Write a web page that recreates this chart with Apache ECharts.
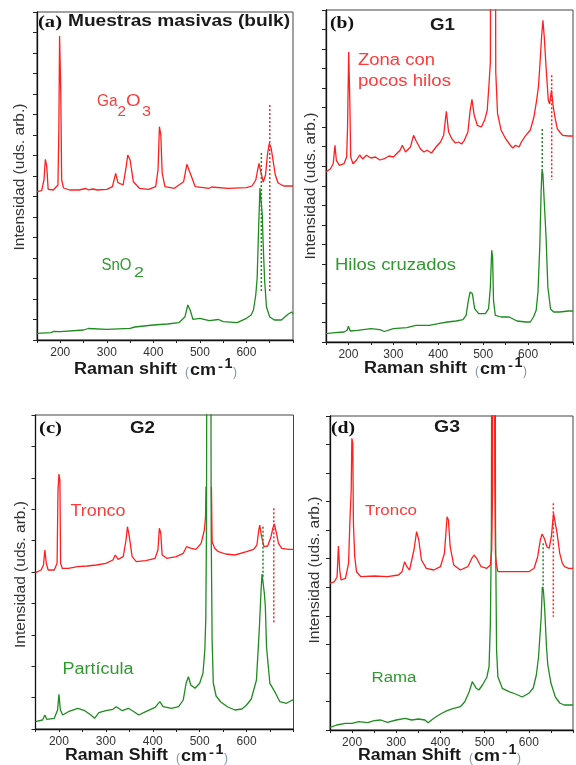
<!DOCTYPE html>
<html><head><meta charset="utf-8">
<script src="https://cdn.jsdelivr.net/npm/echarts@6/dist/echarts.min.js"></script>
<style>html,body{margin:0;padding:0;background:#fff}#c{width:576px;height:765px}</style>
</head><body><div id="c"></div>
<script>
// ---------- DATA (Raman shift cm-1, intensity arb. units) ----------
const xTickLabels = [200, 300, 400, 500, 600];

// (a) bulk samples
const a_Ga2O3 = [[150,148.3],[160,149.3],[165,160],[168,180.7],[171,173.3],[174,150.7],[185,150],[195,155],[197,212],[198.5,304],[200,304],[201,250],[203,160],[207,152],[220,150],[240,150],[255,151.5],[260,150.2],[270,151],[280,150],[300,150.7],[312,153.3],[319,166.7],[324,157.3],[335,155],[341,171.7],[345,185],[350,180],[357,158.3],[370,151.7],[390,150.7],[405,153.3],[410,170],[413,213.3],[416,205],[419,166.7],[425,153.3],[445,151.7],[465,158.3],[472,175.7],[478,168.3],[490,153.3],[520,151.7],[525,153],[560,151.7],[600,152.3],[612,154],[620,160],[624,170],[627,176.7],[631,168],[636,158],[641,165],[645,185],[649,196.7],[653,192],[657,180],[662,165],[668,157],[680,154],[700,154]];
const a_SnO2 = [[150,6.7],[180,7.3],[185,8.5],[200,8.3],[250,10],[260,11.5],[300,10.7],[350,11.7],[360,13],[400,15],[430,16],[455,17.3],[468,23.3],[474,35],[479,30],[485,20.7],[500,21.7],[520,19.3],[540,20.5],[550,18.3],[580,17.3],[600,21.7],[610,25],[615,30],[620,45],[623,62],[626,110],[629,152],[632,150],[634,125],[636,95],[639,60],[643,33],[650,23],[660,20],[675,20],[690,26],[697,28],[700,26]];
const a_dotRed = [[650,235],[650,48]];
const a_dotGreen = [[632,187],[632,47]];

// (b) G1
const b_zona = [[150,170],[160,173.3],[166,178.3],[170,196.7],[173,181.7],[180,176.7],[190,178.3],[196,185],[198,215],[200.5,290],[203,241.7],[205,185],[210,178.3],[218,182],[225,187],[232,183],[240,186.7],[250,184],[260,185],[270,182],[280,183.3],[290,186],[300,185],[315,191.7],[320,196.7],[327,190],[338,195],[345,206.7],[350,201.7],[360,193.3],[368,190],[375,191.7],[385,189],[395,195],[405,200],[412,206.7],[418,230.7],[423,210],[430,203.3],[438,199],[445,200],[452,198],[458,201.7],[466,210],[471,231.7],[475,242.7],[480,226.7],[487,216.7],[496,215],[503,221.7],[509,231.7],[513,258],[516,280],[518.5,800],[522,1200],[525.5,800],[528,270],[532,228.3],[540,211.7],[550,203.3],[560,197],[566,194],[572,196.7],[580,195],[585,200],[595,206.7],[605,212],[613,225],[619,241.7],[623,255],[626,275],[630,305],[633,321.7],[636,305],[640,275],[645,241.7],[648,238],[652,251.7],[656,235],[661,222],[665,213.3],[672,209],[677,206.7],[690,206],[700,206]];
const b_hilos = [[150,8.3],[170,9.3],[190,10],[197,11.7],[200,15.7],[204,11],[220,11.7],[250,13.3],[270,12.3],[280,10.5],[300,13.3],[330,14.3],[350,16.7],[380,16.7],[400,18.3],[420,20],[440,21],[455,22.3],[462,26.7],[467,41.7],[471,50],[476,48.3],[481,33.3],[490,28.3],[505,28.3],[512,33.3],[516,55],[519,91.7],[521,85],[523,41.7],[527,26.7],[540,25],[558,25],[575,21],[595,20],[605,20],[612,25],[618,31.7],[622,50],[626,95],[629,150],[631,172],[633,168],[636,140],[640,105],[644,55],[650,33],[657,30],[670,30],[690,31],[700,31]];
const b_dotRed = [[652.5,266.7],[652.5,162]];
const b_dotGreen = [[631.5,213],[631.5,172]];

// (c) G2  (null = red trace hidden behind the Si peak of the green trace)
const c_tronco = [[150,156.3],[162,159],[167,164],[170,179],[173,165.7],[177,159],[190,159],[196,165.7],[198,239],[200,255],[202,249],[203.5,165.7],[207,160.7],[220,160.7],[240,162.3],[260,163],[280,164],[300,165.7],[315,169],[320,174],[326,169.7],[337,172.3],[343,189],[346,202.3],[350,192.3],[356,172.3],[365,167.3],[385,168.3],[405,170.7],[411,179],[414,200.7],[417,195.7],[420,174],[430,170.7],[450,172.3],[465,175.7],[472,182.3],[476,184],[482,180.7],[492,179.7],[503,185.7],[510,199],[512.5,212.3],[513.5,242.3],[514,null],[524.5,null],[525,242.3],[526.5,187.3],[532,180.7],[540,177.3],[555,175],[575,174],[600,177.3],[615,179.7],[622,184],[626,199],[628,204],[632,192.3],[637,182.3],[645,183],[652,192.3],[656,200.7],[659,205],[663,197.3],[668,185.7],[675,180.7],[690,179.7],[700,179.7]];
const c_particula = [[150,7.3],[165,9],[170,14],[174,9.7],[190,10.7],[197,19],[200,34.7],[203,19],[208,14],[220,17.3],[240,20.7],[255,18.3],[268,14],[276,10.7],[285,16.3],[300,18.3],[315,19.7],[322,22.3],[335,18.3],[348,20.7],[360,17.3],[370,14],[385,17.3],[405,21.7],[415,27.3],[422,22.3],[440,20.7],[455,22.3],[465,29],[471,45.7],[476,52.3],[481,44],[490,40.7],[500,45.7],[507,55.7],[511,79],[513,110],[514.5,200],[516,600],[519.5,1500],[523,600],[524.5,200],[526.5,89],[529,46],[535,33],[545,27],[560,22],[575,19],[590,20],[600,24],[610,30],[617,42],[621,49],[627,99],[631,140],[633,155],[636,153],[638,135],[640,122],[642.5,82],[649.6,45.7],[660,37.3],[671,27.3],[685,25.7],[698,29],[700,29]];
const c_dotRed = [[658,220.7],[658,105.7]];
const c_dotGreen = [[635,202.3],[635,152.3]];

// (d) G3
const d_tronco = [[150,146.7],[160,148.3],[166,153.3],[169,184],[172,160],[175,150],[185,151.7],[192,166.7],[195,208.3],[198,240],[199.5,291.7],[201.5,286.7],[203,206.7],[206,173.3],[210,158.3],[220,153.3],[250,154],[280,153.3],[305,155],[313,158.3],[319,168.3],[324,163.3],[330,160],[340,180],[346,198.3],[351,190],[357,170],[368,161.7],[385,160],[400,163.3],[409,176.7],[415,213.3],[418,210],[422,183.3],[430,165],[445,160],[462,163.3],[471,171.7],[476,175],[482,171.7],[492,163.3],[505,161.7],[513,165],[516,180],[518,240],[519.5,1000],[521.5,1000],[523,250],[524.5,175],[527,165],[530,158.3],[560,158.3],[600,158.3],[612,161.7],[620,173.3],[626,190],[630,196],[635,191.7],[641,183.3],[646,181.7],[651,193.3],[656,216.7],[660,215],[664,196.7],[670,176.7],[676,166.7],[681,163.3],[690,161.7],[700,161.7]];
const d_rama = [[150,2.7],[165,5],[185,6.7],[200,6.7],[215,8.3],[235,7.3],[250,9.3],[265,10],[280,7.7],[300,10],[320,11.7],[335,10],[350,11],[365,10],[372,7.3],[385,11.7],[400,16],[415,19.3],[430,21.7],[445,23.3],[455,28.3],[465,38.3],[472,48.3],[476,50],[481,41.7],[487,40],[495,45],[505,52.7],[510,63.3],[513,106.7],[515.3,200],[516.8,600],[520,1500],[523.2,600],[524.7,200],[527,80],[530,53.3],[540,41.7],[555,38.3],[570,36],[585,33],[600,36.7],[610,42],[617,55],[622,73],[628,113],[630.5,143],[633,140],[636,120],[640,83],[643,65],[650,47],[660,33],[670,27],[680,25],[690,25],[700,25]];
const d_dotRed = [[655.5,226.7],[655.5,113.3]];
const d_dotGreen = [[632.4,186.7],[632.4,141.7]];

// ---------- TEXT ----------
const panelTags = ['(a)', '(b)', '(c)', '(d)'];
const panelNames = ['Muestras masivas (bulk)', 'G1', 'G2', 'G3'];
const yTitle = 'Intensidad (uds. arb.)';

// ---------- CHART ----------
const RED = '#ff1f1f', GREEN = '#1e8c1e', RED_T = '#ff3a3a', GREEN_T = '#2e9a2e';
const grids = [
  {left: 37, top: 12, width: 256, height: 328},
  {left: 326, top: 10, width: 261, height: 332},
  {left: 35.5, top: 415, width: 258, height: 314},
  {left: 330, top: 416, width: 259, height: 314}
];
const yInt = [20.5, 332 / 17, 31.4, 314 / 11];

const mctx = document.createElement('canvas').getContext('2d');
function mw(t, f) { mctx.font = f; return mctx.measureText(t).width; }
function txt(t, x, y, f, color, w, extra) {
  const s = w ? w / mw(t, f) : 1;
  return Object.assign({type: 'text', x: x, y: y, scaleX: s, silent: true,
    style: {text: t, font: f, fill: color, align: 'left', verticalAlign: 'middle'}}, extra || {});
}
const SANS = 'Liberation Sans, Arial, sans-serif';
const SERIF = 'Liberation Serif, Times New Roman, serif';

function xTitle(word, x, y) {
  return {type: 'group', x: x, y: y, silent: true, children: [
    txt('Raman ' + word, 0, 0, 'bold 16px ' + SANS, '#1a1a1a', 103),
    txt('(', 111, 3, '12px ' + SANS, '#7f93b0', 4),
    txt('cm', 116, 1, 'bold 16px ' + SANS, '#1a1a1a', 26),
    txt('-', 144, -3, 'bold 13px ' + SANS, '#1a1a1a', 5),
    txt('1', 150.5, -6, 'bold 15px ' + SANS, '#1a1a1a', 8),
    txt(')', 159, 3, '12px ' + SANS, '#7f93b0', 4)
  ]};
}
function yTitleEl(x, y) {
  return txt(yTitle, x, y, '15px ' + SANS, '#333', 147, {rotation: Math.PI / 2, style: {text: yTitle, font: '15px ' + SANS, fill: '#333', align: 'center', verticalAlign: 'middle'}});
}

const graphics = [
  txt(panelTags[0], 38, 23, 'bold 17px ' + SERIF, '#111', 24),
  txt(panelNames[0], 68, 22, 'bold 16px ' + SANS, '#1a1a1a', 222),
  txt('Ga', 97, 101, '17px ' + SANS, RED_T, 20.5),
  txt('2', 117.5, 111.5, '15px ' + SANS, RED_T, 8.5),
  txt('O', 126, 101, '17px ' + SANS, RED_T, 14.5),
  txt('3', 142, 111.5, '15px ' + SANS, RED_T, 9),
  txt('SnO', 101.5, 266, '16px ' + SANS, GREEN_T, 30),
  txt('2', 134, 273, '15px ' + SANS, GREEN_T, 10),
  txt(panelTags[1], 330, 24, 'bold 17px ' + SERIF, '#111', 24),
  txt(panelNames[1], 430, 26, 'bold 16px ' + SANS, '#1a1a1a', 25),
  txt('Zona con', 358, 61, '16px ' + SANS, RED_T, 77),
  txt('pocos hilos', 358, 81.5, '16px ' + SANS, RED_T, 93),
  txt('Hilos cruzados', 335, 266, '16px ' + SANS, GREEN_T, 121),
  txt(panelTags[2], 39, 429, 'bold 17px ' + SERIF, '#111', 23),
  txt(panelNames[2], 130, 429, 'bold 16px ' + SANS, '#1a1a1a', 25),
  txt('Tronco', 70.5, 511.5, '16px ' + SANS, RED_T, 55),
  txt('Partícula', 62.5, 670, '16px ' + SANS, GREEN_T, 71),
  txt(panelTags[3], 331, 429, 'bold 17px ' + SERIF, '#111', 24),
  txt(panelNames[3], 434, 428, 'bold 16px ' + SANS, '#1a1a1a', 26),
  txt('Tronco', 365, 511, '15px ' + SANS, RED_T, 52),
  txt('Rama', 371.5, 678.5, '14px ' + SANS, GREEN_T, 45),
  yTitleEl(20, 177), yTitleEl(311, 186), yTitleEl(20.5, 574.5), yTitleEl(314.5, 570),
  xTitle('shift', 74, 370), xTitle('shift', 364, 369), xTitle('Shift', 65, 756), xTitle('Shift', 358, 756)
];

const xAxes = grids.map((g, i) => ({
  type: 'value', gridIndex: i, min: 150, max: 700, interval: 50,
  axisLine: {show: true, lineStyle: {color: '#111', width: 1.3}},
  axisTick: {show: true, inside: false, length: 3, lineStyle: {color: '#222', width: 1}},
  axisLabel: {show: true, margin: 7, fontSize: 12, color: '#333', fontFamily: SANS,
    formatter: v => xTickLabels.includes(v) ? String(v) : ''},
  splitLine: {show: false}
}));
const yMaxes = [328, 332, 314, 314];
const yAxes = grids.map((g, i) => ({
  type: 'value', gridIndex: i, min: 0, max: yMaxes[i], interval: yInt[i],
  axisLine: {show: true, lineStyle: {color: '#111', width: 1.3}},
  axisTick: {show: true, inside: false, length: 4, lineStyle: {color: '#222', width: 1}},
  axisLabel: {show: false}, splitLine: {show: false}
}));

function spec(data, i, color, z) {
  return {type: 'line', xAxisIndex: i, yAxisIndex: i, data: data, showSymbol: false, symbol: 'none',
    clip: true, connectNulls: false, z: z, lineStyle: {color: color, width: 1.3}, silent: true, animation: false};
}
function dot(data, i, color) {
  return {type: 'line', xAxisIndex: i, yAxisIndex: i, data: data, showSymbol: false, symbol: 'none',
    clip: true, z: 5, lineStyle: {color: color, width: 1.5, type: [2, 2]}, silent: true, animation: false};
}

const series = [
  spec(a_Ga2O3, 0, RED, 2), spec(a_SnO2, 0, GREEN, 3), dot(a_dotRed, 0, RED), dot(a_dotGreen, 0, GREEN),
  spec(b_zona, 1, RED, 2), spec(b_hilos, 1, GREEN, 3), dot(b_dotRed, 1, RED), dot(b_dotGreen, 1, GREEN),
  spec(c_tronco, 2, RED, 2), spec(c_particula, 2, GREEN, 3), dot(c_dotRed, 2, RED), dot(c_dotGreen, 2, GREEN),
  spec(d_rama, 3, GREEN, 2), spec(d_tronco, 3, RED, 3), dot(d_dotRed, 3, RED), dot(d_dotGreen, 3, GREEN)
];

const chart = echarts.init(document.getElementById('c'), null, {renderer: 'canvas'});
chart.setOption({
  animation: false,
  backgroundColor: '#fff',
  grid: grids.map(g => Object.assign({show: true, borderColor: '#444', borderWidth: 1, containLabel: false}, g)),
  xAxis: xAxes, yAxis: yAxes, series: series, graphic: graphics
});
</script></body></html>
